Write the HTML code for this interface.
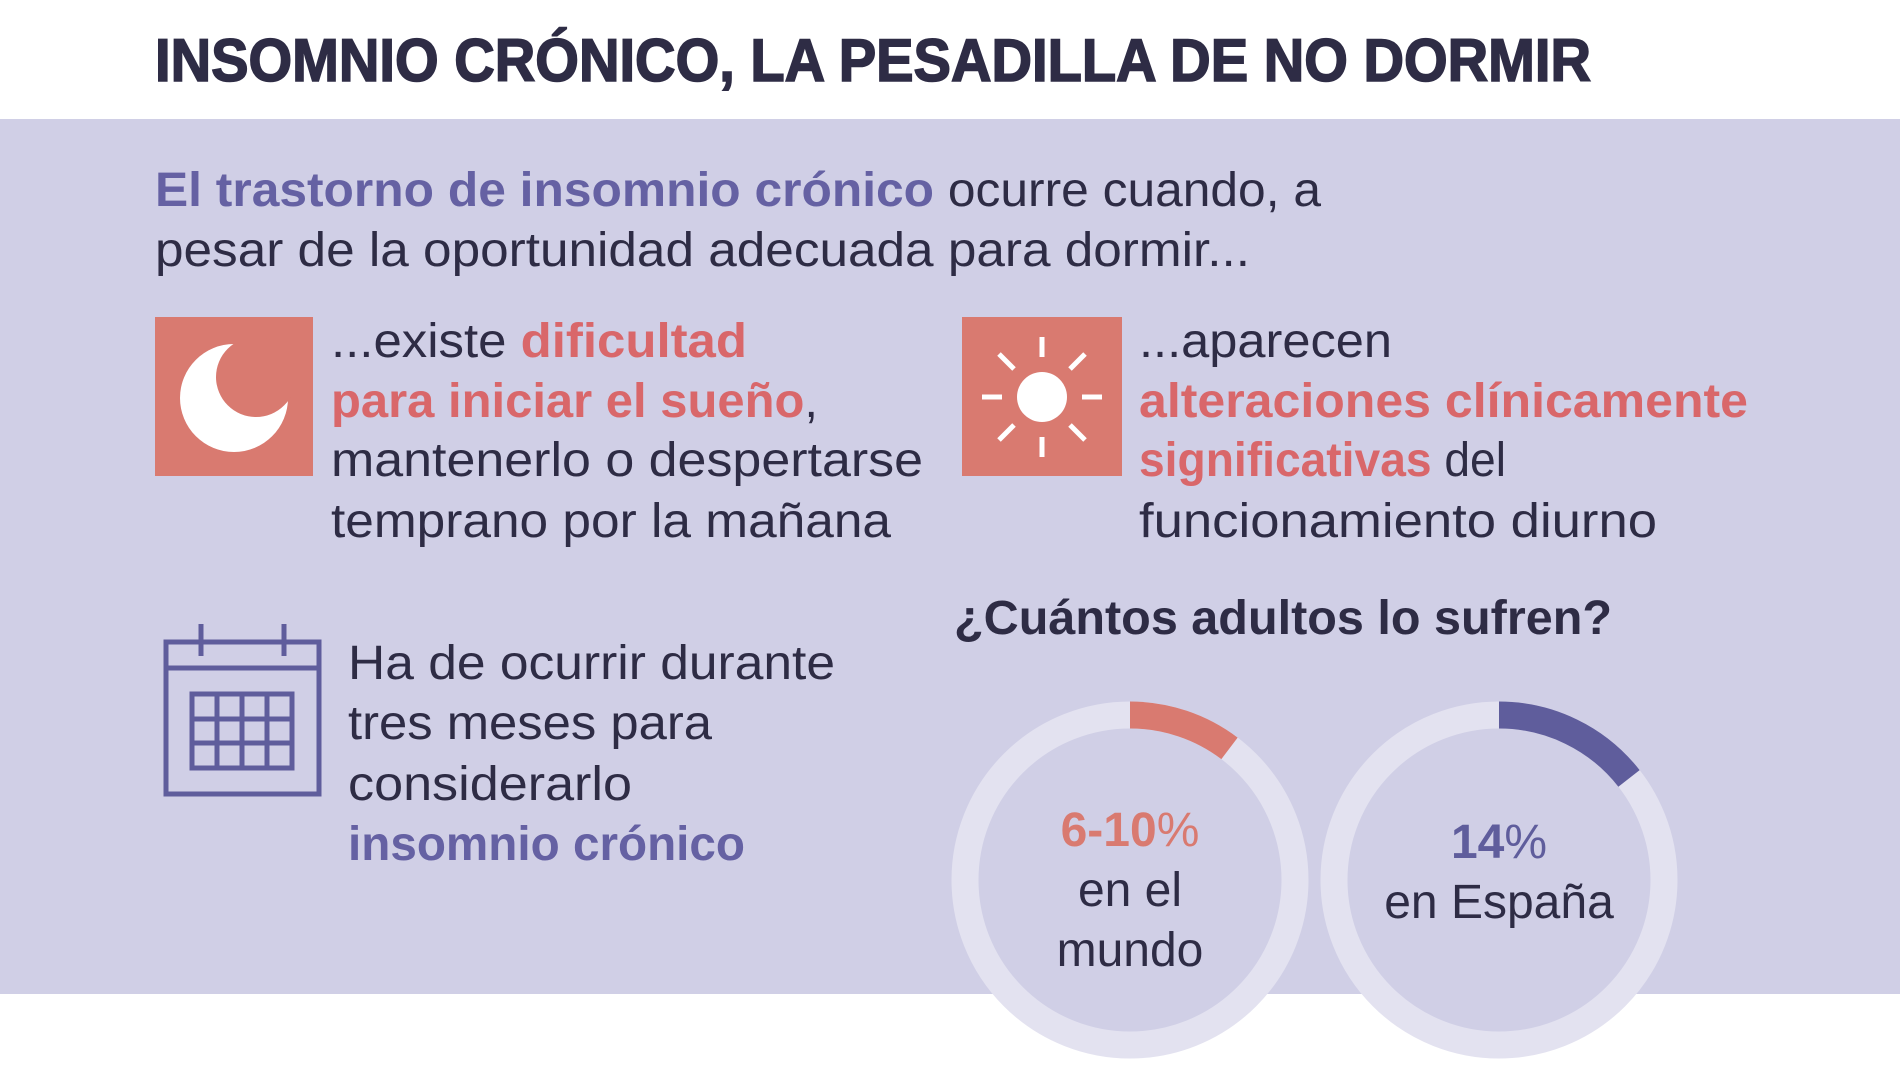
<!DOCTYPE html>
<html><head><meta charset="utf-8"><style>html,body{margin:0;padding:0;background:#fff}svg{display:block}</style></head>
<body>
<svg width="1900" height="1069" viewBox="0 0 1900 1069" xmlns="http://www.w3.org/2000/svg" font-family="'Liberation Sans', sans-serif">
<rect width="1900" height="1069" fill="#ffffff"/>
<rect x="0" y="119" width="1900" height="875" fill="#d0cfe6"/>
<text x="155" y="81" font-size="60" font-weight="bold" fill="#2e2c45" stroke="#2e2c45" stroke-width="1.6" textLength="1436" lengthAdjust="spacingAndGlyphs">INSOMNIO CRÓNICO, LA PESADILLA DE NO DORMIR</text>

<g font-size="48" fill="#2e2c45">
<text x="155" y="206" textLength="1166" lengthAdjust="spacingAndGlyphs"><tspan font-weight="bold" fill="#6561a3">El trastorno de insomnio crónico</tspan> ocurre cuando, a</text>
<text x="155" y="266" textLength="1095" lengthAdjust="spacingAndGlyphs">pesar de la oportunidad adecuada para dormir...</text>

<text x="331" y="357" textLength="416" lengthAdjust="spacingAndGlyphs">...existe <tspan font-weight="bold" fill="#d9676a">dificultad</tspan></text>
<text x="331" y="417" textLength="487" lengthAdjust="spacingAndGlyphs"><tspan font-weight="bold" fill="#d9676a">para iniciar el sueño</tspan>,</text>
<text x="331" y="476" textLength="592" lengthAdjust="spacingAndGlyphs">mantenerlo o despertarse</text>
<text x="331" y="537" textLength="560" lengthAdjust="spacingAndGlyphs">temprano por la mañana</text>

<text x="1139" y="357" textLength="253" lengthAdjust="spacingAndGlyphs">...aparecen</text>
<text x="1139" y="417" textLength="609" lengthAdjust="spacingAndGlyphs" font-weight="bold" fill="#d9676a">alteraciones clínicamente</text>
<text x="1139" y="476" textLength="367" lengthAdjust="spacingAndGlyphs"><tspan font-weight="bold" fill="#d9676a">significativas</tspan> del</text>
<text x="1139" y="537" textLength="518" lengthAdjust="spacingAndGlyphs">funcionamiento diurno</text>

<text x="348" y="679" textLength="487" lengthAdjust="spacingAndGlyphs">Ha de ocurrir durante</text>
<text x="348" y="739" textLength="364" lengthAdjust="spacingAndGlyphs">tres meses para</text>
<text x="348" y="800" textLength="284" lengthAdjust="spacingAndGlyphs">considerarlo</text>
<text x="348" y="860" textLength="397" lengthAdjust="spacingAndGlyphs" font-weight="bold" fill="#6561a3">insomnio crónico</text>

<text x="954" y="634" textLength="658" lengthAdjust="spacingAndGlyphs" font-weight="bold">¿Cuántos adultos lo sufren?</text>
</g>

<!-- moon -->
<rect x="155" y="317" width="158" height="159" fill="#d97a70"/>
<circle cx="234" cy="398" r="54" fill="#fff"/>
<circle cx="256" cy="377" r="40" fill="#d97a70"/>

<!-- sun -->
<rect x="962" y="317" width="160" height="159" fill="#d97a70"/>
<circle cx="1042" cy="397" r="25" fill="#fff"/>
<g stroke="#fff" stroke-width="5">
<line x1="1042" y1="337" x2="1042" y2="357"/><line x1="1042" y1="437" x2="1042" y2="457"/>
<line x1="982" y1="397" x2="1002" y2="397"/><line x1="1082" y1="397" x2="1102" y2="397"/>
<line x1="999" y1="354" x2="1014" y2="369"/><line x1="1070" y1="425" x2="1085" y2="440"/>
<line x1="1085" y1="354" x2="1070" y2="369"/><line x1="1014" y1="425" x2="999" y2="440"/>
</g>

<!-- calendar -->
<g stroke="#5f5d9c" stroke-width="5" fill="none">
<rect x="166" y="642" width="153" height="152"/>
<line x1="166" y1="668" x2="319" y2="668"/>
<line x1="201" y1="624" x2="201" y2="656"/><line x1="284" y1="624" x2="284" y2="656"/>
<rect x="192" y="694" width="100" height="74"/>
<line x1="217" y1="694" x2="217" y2="768"/><line x1="242" y1="694" x2="242" y2="768"/><line x1="267" y1="694" x2="267" y2="768"/>
<line x1="192" y1="719" x2="292" y2="719"/><line x1="192" y1="743" x2="292" y2="743"/>
</g>

<!-- donuts -->
<circle cx="1130" cy="880" r="165" fill="#d0cfe6" stroke="#e3e2f0" stroke-width="27"/>
<path d="M1130 715 A165 165 0 0 1 1229.5 748.4" stroke="#d97a70" stroke-width="27" fill="none"/>
<circle cx="1499" cy="880" r="165" fill="#d0cfe6" stroke="#e3e2f0" stroke-width="27"/>
<path d="M1499 715 A165 165 0 0 1 1629 778.4" stroke="#5f5d9c" stroke-width="27" fill="none"/>

<g font-size="48" text-anchor="middle" fill="#2e2c45">
<text x="1130" y="846"><tspan font-weight="bold" fill="#d97a70">6-10</tspan><tspan fill="#d97a70">%</tspan></text>
<text x="1130" y="906">en el</text>
<text x="1130" y="966">mundo</text>
<text x="1499" y="858"><tspan font-weight="bold" fill="#5f5d9c">14</tspan><tspan fill="#5f5d9c">%</tspan></text>
<text x="1499" y="918">en España</text>
</g>
</svg>
</body></html>
